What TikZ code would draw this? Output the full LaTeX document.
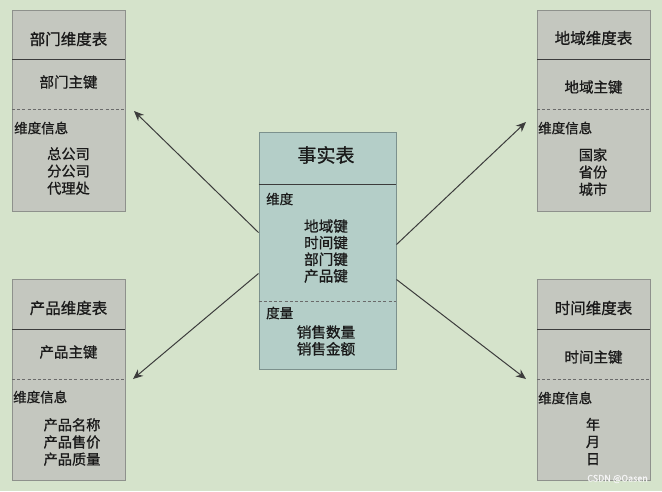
\documentclass[tikz,border=0pt]{standalone}
\usepackage{fontspec}
\setmainfont{Noto Sans CJK SC}[RawFeature={embolden=0.9}]
\usetikzlibrary{arrows.meta}
\definecolor{bg}{HTML}{D5E3CB}
\definecolor{sidefill}{HTML}{C4C7BF}
\definecolor{sideline}{HTML}{8E918C}
\definecolor{factfill}{HTML}{B4CEC8}
\definecolor{factline}{HTML}{7C918D}
\definecolor{ink}{HTML}{1A1A1A}
\tikzset{
  sidebox/.style={draw=sideline, fill=sidefill, line width=1pt, minimum width=113pt, minimum height=201pt, anchor=north west, inner sep=0pt},
  factbox/.style={draw=factline, fill=factfill, line width=1pt, minimum width=137pt, minimum height=237pt, anchor=north west, inner sep=0pt},
  hline/.style={draw=ink!85, line width=1pt},
  dline/.style={draw=ink!65, line width=1pt, dash pattern=on 3pt off 2.2pt},
  ttl/.style={text=ink, font=\fontsize{15.5}{18}\selectfont, inner sep=0pt},
  keyt/.style={text=ink, font=\fontsize{14.5}{17}\selectfont, inner sep=0pt},
  lbl/.style={text=ink, font=\fontsize{13.5}{16}\selectfont, inner sep=0pt, anchor=west},
  items/.style={text=ink, font=\fontsize{14.2}{17.2}\selectfont, inner sep=0pt, align=center},
  arr/.style={draw=ink!85, line width=1pt, -{Stealth[length=10pt,width=8.5pt]}},
}
\begin{document}
\begin{tikzpicture}[x=1pt,y=-1pt]
\fill[bg] (0,0) rectangle (662,491);
\useasboundingbox (0,0) rectangle (662,491);

% ---- department (top-left)
\node[sidebox] (dep) at (12,10) {};
\draw[hline] (12,59) -- (125,59);
\draw[dline] (12,109) -- (125,109);
\node[ttl] (depT) at (68.5,39) {部门维度表};
\node[keyt] (depK) at (68.5,82) {部门主键};
\node[lbl] (depL) at (14,128) {维度信息};
\node[items] (depI) at (68.5,171) {总公司\\分公司\\代理处};

% ---- region (top-right)
\node[sidebox] (reg) at (537,10) {};
\draw[hline] (537,59) -- (650,59);
\draw[dline] (537,109) -- (650,109);
\node[ttl] (regT) at (593.5,38) {地域维度表};
\node[keyt] (regK) at (593.5,87) {地域主键};
\node[lbl] (regL) at (538,128) {维度信息};
\node[items] (regI) at (593,172) {国家\\省份\\城市};

% ---- product (bottom-left)
\node[sidebox] (prd) at (12,279) {};
\draw[hline] (12,329) -- (125,329);
\draw[dline] (12,379) -- (125,379);
\node[ttl] (prdT) at (68.5,308) {产品维度表};
\node[keyt] (prdK) at (68.5,352) {产品主键};
\node[lbl] (prdL) at (13,397) {维度信息};
\node[items] (prdI) at (72,442) {产品名称\\产品售价\\产品质量};

% ---- time (bottom-right)
\node[sidebox] (tim) at (537,279) {};
\draw[hline] (537,329) -- (650,329);
\draw[dline] (537,379) -- (650,379);
\node[ttl] (timT) at (593.5,308) {时间维度表};
\node[keyt] (timK) at (593.5,357) {时间主键};
\node[lbl] (timL) at (538,398) {维度信息};
\node[items] (timI) at (593,441.5) {年\\月\\日};

% ---- fact table (centre)
\node[factbox] (fact) at (258.5,132) {};
\draw[hline] (258.5,184) -- (395.5,184);
\draw[dline] (258.5,301) -- (395.5,301);
\node[text=ink, font=\fontsize{19}{22}\selectfont, inner sep=0pt] (factT) at (326,155) {事实表};
\node[lbl] (factL1) at (266,199) {维度};
\node[items, font=\fontsize{14.6}{16.6}\selectfont] (factI1) at (326,251) {地域键\\时间键\\部门键\\产品键};
\node[lbl] (factL2) at (266,313) {度量};
\node[items, font=\fontsize{14.6}{16.8}\selectfont] (factI2) at (326,340.5) {销售数量\\销售金额};

% ---- arrow ends
\coordinate (eDep) at (134,111);
\coordinate (eReg) at (526,122);
\coordinate (ePrd) at (133,379);
\coordinate (eTim) at (526,379);

\draw[arr] ([yshift=18.5pt]fact.west) -- (eDep);
\draw[arr] ([yshift=6.5pt]fact.east) -- (eReg);
\draw[arr] ([yshift=-22.5pt]fact.west) -- (ePrd);
\draw[arr] ([yshift=-28.5pt]fact.east) -- (eTim);

% ---- watermark
\node[text=white!92!gray, font=\fontsize{9}{10}\selectfont, inner sep=0pt, anchor=east] (wm) at (648,479) {CSDN @Oasen};
\end{tikzpicture}
\end{document}
